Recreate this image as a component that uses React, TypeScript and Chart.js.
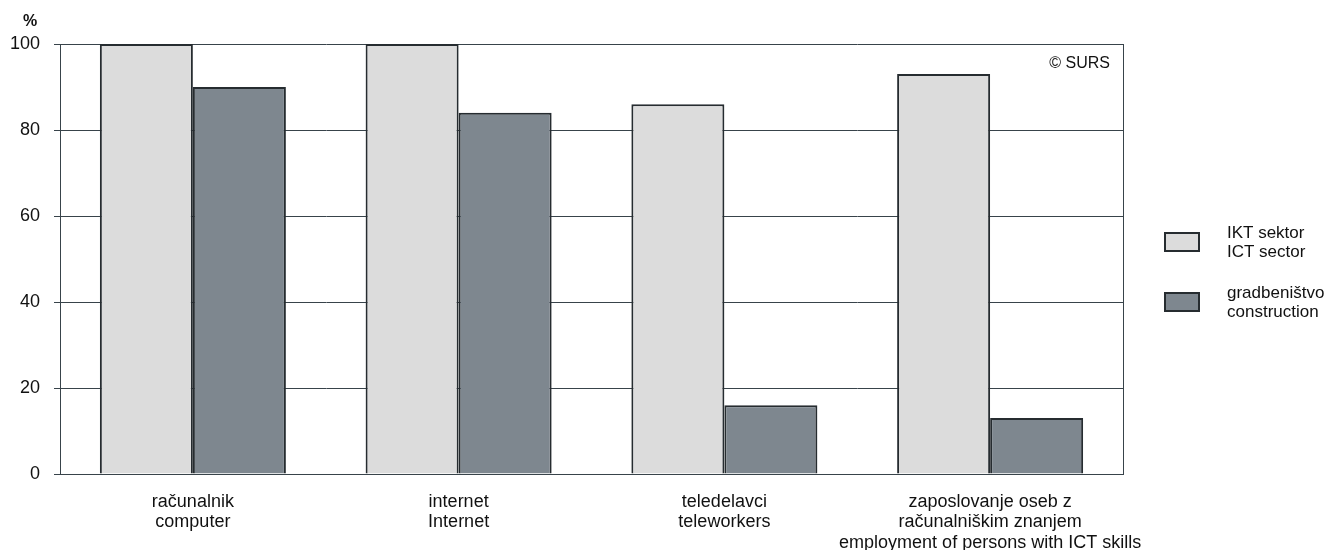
import React, { useEffect, useRef } from "react";
import { Chart, registerables } from "chart.js";

Chart.register(...registerables);

const categories: string[][] = [
  ["računalnik", "computer"],
  ["internet", "Internet"],
  ["teledelavci", "teleworkers"],
  ["zaposlovanje oseb z", "računalniškim znanjem", "employment of persons with ICT skills"],
];
const ictValues = [100, 100, 86, 93];
const constructionValues = [90, 84, 16, 13];
const seriesLabels: string[][] = [
  ["IKT sektor", "ICT sector"],
  ["gradbeništvo", "construction"],
];
const yTicks = [0, 20, 40, 60, 80, 100];

const FONT = "'Liberation Sans', Arial, sans-serif";
const GRID = "#38434a";
const ICT_FILL = "#dcdcdc";
const CON_FILL = "#7e878f";
const EDGE = "#262c30";

const framePlugin = {
  id: "frame",
  afterDraw(chart: any) {
    const { ctx, chartArea } = chart;
    ctx.save();
    ctx.strokeStyle = GRID;
    ctx.lineWidth = 1;
    ctx.beginPath();
    ctx.moveTo(Math.round(chartArea.right) + 0.5, chartArea.top);
    ctx.lineTo(Math.round(chartArea.right) + 0.5, chartArea.bottom);
    ctx.stroke();
    // % title
    ctx.fillStyle = "#111";
    ctx.font = `bold 16px ${FONT}`;
    ctx.textAlign = "center";
    ctx.textBaseline = "middle";
    ctx.fillText("%", 30, 22);
    // copyright
    ctx.font = `16px ${FONT}`;
    ctx.textAlign = "right";
    ctx.fillText("© SURS", chartArea.right - 13, 64);
    // legend
    const fills = [ICT_FILL, CON_FILL];
    const boxY = [233, 293];
    ctx.font = `17px ${FONT}`;
    ctx.textAlign = "left";
    for (let i = 0; i < 2; i++) {
      ctx.fillStyle = fills[i];
      ctx.fillRect(1165, boxY[i], 34, 18);
      ctx.strokeStyle = EDGE;
      ctx.lineWidth = 2;
      ctx.strokeRect(1165, boxY[i], 34, 18);
      ctx.fillStyle = "#111";
      ctx.fillText(seriesLabels[i][0], 1227, boxY[i]);
      ctx.fillText(seriesLabels[i][1], 1227, boxY[i] + 19);
    }
    ctx.restore();
  },
};

export default function App() {
  const ref = useRef<HTMLCanvasElement>(null);
  useEffect(() => {
    const chart = new Chart(ref.current!, {
      type: "bar",
      data: {
        labels: categories,
        datasets: [
          {
            label: seriesLabels[0].join(" / "),
            data: ictValues,
            backgroundColor: ICT_FILL,
            borderColor: EDGE,
            borderWidth: 2,
            borderSkipped: "bottom",
          },
          {
            label: seriesLabels[1].join(" / "),
            data: constructionValues,
            backgroundColor: CON_FILL,
            borderColor: EDGE,
            borderWidth: 2,
            borderSkipped: "bottom",
          },
        ],
      },
      options: {
        animation: false,
        responsive: false,
        maintainAspectRatio: false,
        layout: { padding: { top: 44, right: 206, left: 0, bottom: 0 } },
        plugins: { legend: { display: false }, tooltip: { enabled: false } },
        datasets: { bar: { categoryPercentage: 0.7, barPercentage: 1 } },
        scales: {
          x: {
            grid: { display: false, drawTicks: false },
            border: { display: true, color: GRID, width: 1 },
            ticks: {
              color: "#111",
              font: { family: FONT, size: 18, lineHeight: 1.13 },
              padding: 18,
              maxRotation: 0,
              autoSkip: false,
            },
            afterFit(s: any) {
              s.height = 76;
            },
          },
          y: {
            min: 0,
            max: 100,
            afterBuildTicks(s: any) {
              s.ticks = yTicks.map((v) => ({ value: v }));
            },
            grid: { color: GRID, lineWidth: 1, tickLength: 6, drawTicks: true },
            border: { display: true, color: GRID, width: 1 },
            ticks: {
              color: "#111",
              font: { family: FONT, size: 18 },
              padding: 14,
            },
            afterFit(s: any) {
              s.width = 60;
            },
          },
        },
      },
      plugins: [framePlugin],
    });
    return () => chart.destroy();
  }, []);
  return (
    <div style={{ position: "fixed", left: 0, top: 0, width: 1329, height: 550, background: "#fff" }}>
      <canvas ref={ref} width={1329} height={550} style={{ width: 1329, height: 550 }} />
    </div>
  );
}
